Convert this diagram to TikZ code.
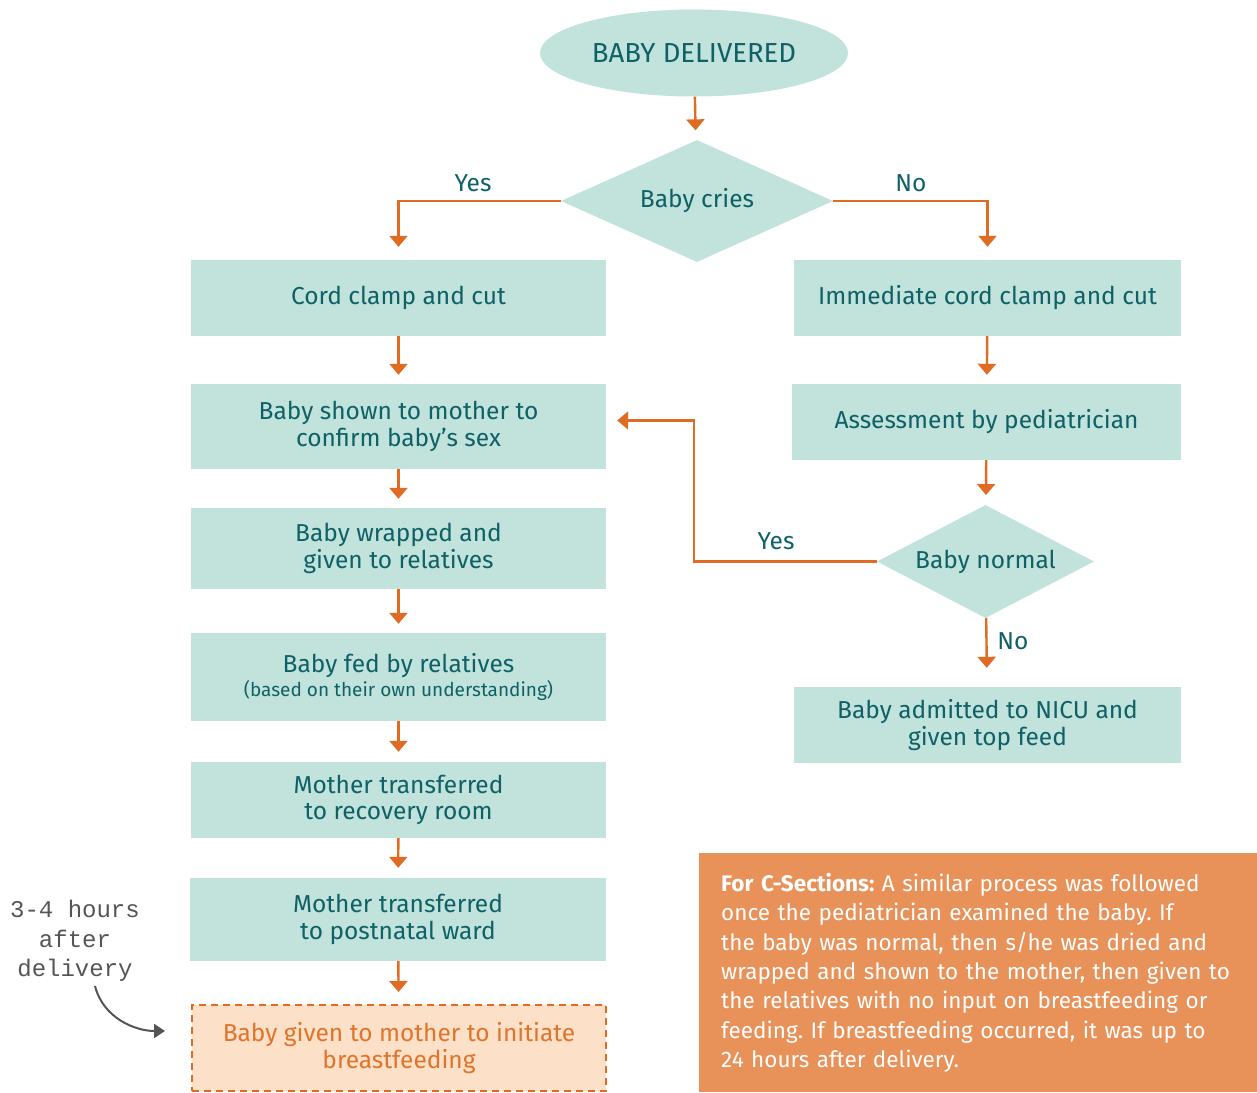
\documentclass[tikz,border=0pt]{standalone}
\usepackage{fontspec}
\setmainfont{Fira Sans}
\newfontfamily\handfont{Liberation Mono}
\usetikzlibrary{shapes.geometric,arrows.meta,calc}
\definecolor{boxfill}{HTML}{C2E2DC}
\definecolor{tealtext}{HTML}{0E6166}
\definecolor{lineor}{HTML}{E06C24}
\definecolor{dashfill}{HTML}{FCE0C8}
\definecolor{dashtext}{HTML}{E0742A}
\definecolor{noteor}{HTML}{E8925A}
\definecolor{handgray}{HTML}{555555}
\tikzset{
  base/.style={fill=boxfill, text=tealtext, align=center, inner sep=0pt, font=\fontsize{24.5}{26.5}\selectfont},
  box/.style={base, rectangle, minimum width=#1, minimum height=76},
  box/.default=415,
  arr/.style={draw=lineor, line width=2.4pt, -{Triangle[width=18pt,length=11pt]}},
  lbl/.style={text=tealtext, font=\fontsize{24.5}{26}\selectfont, inner sep=0pt},
  garr/.style={draw=handgray, line width=2pt, -{Triangle[width=14pt,length=11pt]}}
}
\frenchspacing
\begin{document}
\begin{tikzpicture}[x=1pt,y=-1pt]
\path[use as bounding box] (0,0) rectangle (1257,1092);
% start
\node[base, ellipse, minimum width=308, minimum height=87, font=\fontsize{27.5}{30}\selectfont] (start) at (694,53) {BABY DELIVERED};
\node[base, diamond, aspect=2.23, minimum width=272, minimum height=122] (cries) at (697,201) {Baby cries};
% left column
\node[box] (cord) at (398.5,298) {Cord clamp and cut};
\node[box, minimum height=85] (shown) at (398.5,426.5) {Baby shown to mother to\\confirm baby's sex};
\node[box, minimum height=81] (wrap) at (398.5,548.5) {Baby wrapped and\\given to relatives};
\node[box, minimum height=88] (fed) at (398.5,677) {Baby fed by relatives\\[-2pt]{\fontsize{19}{22}\selectfont (based on their own understanding)}};
\node[box] (recov) at (398.5,800) {Mother transferred\\to recovery room};
\node[box, minimum width=416, minimum height=83] (ward) at (398,919.5) {Mother transferred\\to postnatal ward};
\node[box, minimum width=414, minimum height=86, fill=dashfill, text=dashtext, draw=lineor, line width=2pt, dash pattern=on 7pt off 5pt] (bf) at (399,1048) {Baby given to mother to initiate\\breastfeeding};
% right column
\node[box, minimum width=387] (imm) at (987.5,298) {Immediate cord clamp and cut};
\node[box, minimum width=389] (assess) at (986.5,422) {Assessment by pediatrician};
\node[base, diamond, aspect=1.92, minimum width=217, minimum height=113] (normal) at (985.5,561.5) {Baby normal};
\node[box, minimum width=387] (nicu) at (987.5,725) {Baby admitted to NICU and\\given top feed};
% note box
\node[rectangle, fill=noteor, text=white, minimum width=558, minimum height=239, text width=514, align=left, inner sep=0pt, anchor=north west, font=\fontsize{22.5}{29.3}\selectfont] (note) at (699,853) {\textbf{For C-Sections:} A similar process was followed\\once the pediatrician examined the baby. If\\the baby was normal, then s/he was dried and\\wrapped and shown to the mother, then given to\\the relatives with no input on breastfeeding or\\feeding. If breastfeeding occurred, it was up to\\24 hours after delivery.};
% annotation
\node[text=handgray, align=center, inner sep=0pt, font=\handfont\fontsize{24}{29.5}\selectfont] (annot) at (75,941) {3-4 hours\\after\\delivery};
\coordinate (atip) at (165,1031);
% connectors
\draw[arr, shorten >=10pt] (start) -- (cries);
\draw[arr, shorten >=13pt] (cries.west) -| (cord.north);
\draw[arr, shorten >=13pt] (cries.east) -| (imm.north);
\draw[arr, shorten >=9pt] (cord) -- (shown);
\draw[arr, shorten >=9pt] (shown) -- (wrap);
\draw[arr, shorten >=9pt] (wrap) -- (fed);
\draw[arr, shorten >=10pt] (fed) -- (recov);
\draw[arr, shorten >=10pt] (recov) -- (ward);
\draw[arr, shorten >=12pt] (ward) -- (bf);
\draw[arr, shorten >=9pt] (imm) -- (assess);
\draw[arr, shorten >=10pt] (assess) -- (normal);
\draw[arr, shorten >=19pt] (normal) -- (nicu);
\draw[arr, shorten >=11pt] (normal.west) -- ++(-183,0) |- ([yshift=6pt]shown.east);
\draw[garr] ([xshift=20pt,yshift=-4pt]annot.south) .. controls +(8,32) and +(-30,0) .. (atip);
% labels
\node[lbl] (ly1) at (473,183) {Yes};
\node[lbl] (ln1) at (911,183) {No};
\node[lbl] (ly2) at (776,541) {Yes};
\node[lbl] (ln2) at (1013,641) {No};
\end{tikzpicture}
\end{document}
